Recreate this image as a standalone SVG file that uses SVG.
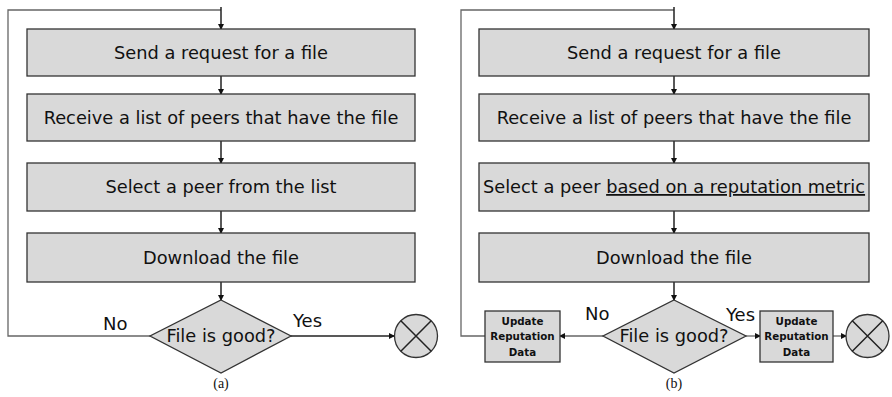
<svg xmlns="http://www.w3.org/2000/svg" width="892" height="397" viewBox="0 0 892 397">
<style>
.box{fill:#d9d9d9;stroke:#333;stroke-width:1.3}
.t{font-family:"DejaVu Sans",sans-serif;font-size:17.8px;fill:#111;text-anchor:middle}
.s{font-family:"DejaVu Sans",sans-serif;font-size:10.3px;font-weight:bold;fill:#111;text-anchor:middle}
.lab{font-family:"DejaVu Sans",sans-serif;font-size:18px;fill:#111}
.cap{font-family:"Liberation Serif",serif;font-size:14px;fill:#111;text-anchor:middle}
.ln{fill:none;stroke:#222;stroke-width:1.5}
.lg{fill:none;stroke:#666;stroke-width:1.3}
</style>
<defs>
<marker id="ah" markerWidth="6" markerHeight="6" refX="5" refY="3" orient="auto" markerUnits="userSpaceOnUse">
<path d="M0,0 L6,3 L0,6 z" fill="#111"/>
</marker>
</defs>
<g id="connectors">
<path class="lg" d="M150,336 H8 V10 H221"/>
<path class="ln" d="M221,7 V29" marker-end="url(#ah)"/>
<path class="ln" d="M221,76 V94" marker-end="url(#ah)"/>
<path class="ln" d="M221,141 V163" marker-end="url(#ah)"/>
<path class="ln" d="M221,211 V233" marker-end="url(#ah)"/>
<path class="ln" d="M221,282 V300" marker-end="url(#ah)"/>
<path class="ln" d="M291,336 H394" marker-end="url(#ah)"/>
<path class="lg" d="M485,336 H461 V10 H674"/>
<path class="ln" d="M674,7 V29" marker-end="url(#ah)"/>
<path class="ln" d="M674,76 V94" marker-end="url(#ah)"/>
<path class="ln" d="M674,141 V163" marker-end="url(#ah)"/>
<path class="ln" d="M674,211 V233" marker-end="url(#ah)"/>
<path class="ln" d="M674,282 V300" marker-end="url(#ah)"/>
<path class="lg" d="M603,336 H560" marker-end="url(#ah)"/>
<path class="lg" d="M746,336 H760" marker-end="url(#ah)"/>
<path class="lg" d="M833,336 H846" marker-end="url(#ah)"/>
</g>
<g id="a-send"><rect class="box" x="27" y="29" width="388" height="47"/><text class="t" x="221" y="59">Send a request for a file</text></g>
<g id="a-receive"><rect class="box" x="27" y="94" width="388" height="47"/><text class="t" x="221" y="124">Receive a list of peers that have the file</text></g>
<g id="a-select"><rect class="box" x="27" y="163" width="388" height="48"/><text class="t" x="221" y="193">Select a peer from the list</text></g>
<g id="a-download"><rect class="box" x="27" y="233" width="388" height="49"/><text class="t" x="221" y="264">Download the file</text></g>
<g id="a-decision"><path class="box" d="M221,300 L291,336 L221,373 L150,336 z"/><text class="t" x="221" y="342">File is good?</text></g>
<g id="a-end"><circle class="box" cx="416" cy="336" r="21.5"/><path class="ln" stroke-width="1.2" d="M400.8,320.8 L431.2,351.2 M431.2,320.8 L400.8,351.2"/></g>
<text class="lab" x="103" y="330">No</text>
<text class="lab" x="293" y="327">Yes</text>
<text class="cap" x="221" y="388">(a)</text>

<g id="b-send"><rect class="box" x="479" y="29" width="390" height="47"/><text class="t" x="674" y="59">Send a request for a file</text></g>
<g id="b-receive"><rect class="box" x="479" y="94" width="390" height="47"/><text class="t" x="674" y="124">Receive a list of peers that have the file</text></g>
<g id="b-select"><rect class="box" x="479" y="163" width="390" height="48"/><text class="t" x="674" y="193">Select a peer <tspan text-decoration="underline">based on a reputation metric</tspan></text></g>
<g id="b-download"><rect class="box" x="479" y="233" width="390" height="49"/><text class="t" x="674" y="264">Download the file</text></g>
<g id="b-decision"><path class="box" d="M674,300 L746,336 L674,373 L603,336 z"/><text class="t" x="674" y="342">File is good?</text></g>
<g id="b-update-no"><rect class="box" x="485" y="311" width="75" height="51"/><text class="s" x="522.5" y="325">Update</text><text class="s" x="522.5" y="340">Reputation</text><text class="s" x="522.5" y="356">Data</text></g>
<g id="b-update-yes"><rect class="box" x="760" y="311" width="73" height="51"/><text class="s" x="796.5" y="325">Update</text><text class="s" x="796.5" y="340">Reputation</text><text class="s" x="796.5" y="356">Data</text></g>
<g id="b-end"><circle class="box" cx="867.5" cy="336" r="21.5"/><path class="ln" stroke-width="1.2" d="M852.3,320.8 L882.7,351.2 M882.7,320.8 L852.3,351.2"/></g>
<text class="lab" x="585" y="320">No</text>
<text class="lab" x="726" y="321">Yes</text>
<text class="cap" x="674" y="388">(b)</text>
</svg>
